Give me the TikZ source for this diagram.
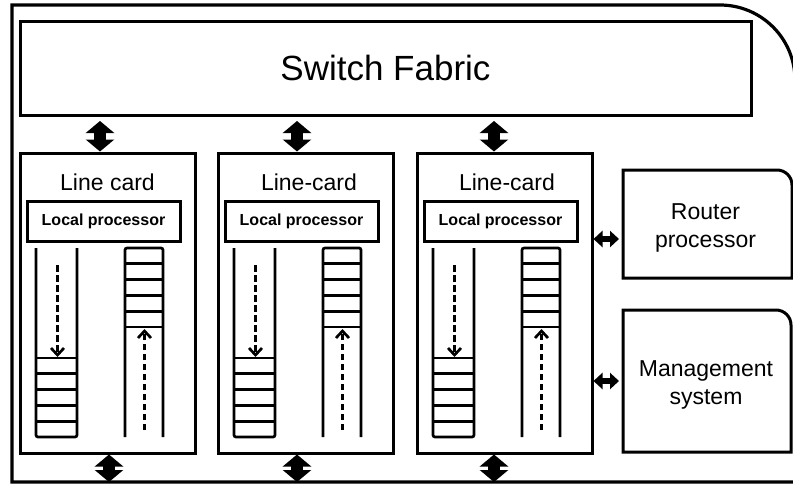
\documentclass[tikz,border=0pt]{standalone}
\usepackage{fontspec}
\setmainfont{Liberation Sans}
\usetikzlibrary{arrows.meta,calc}

\begin{document}
\begin{tikzpicture}[x=1pt,y=-1pt,
  box/.style={draw,line width=3pt,rectangle,inner sep=0pt},
  fat/.style={line width=12pt,{Triangle[width=28pt,length=12pt]}-{Triangle[width=28pt,length=12pt]}},
  slim/.style={line width=6pt,{Triangle[width=16pt,length=9pt]}-{Triangle[width=16pt,length=9pt]}},
  chan/.style={line width=2.7pt},
  flow/.style={line width=2.7pt,dash pattern=on 6.5pt off 3.5pt,-{Straight Barb[length=7pt,width=13pt]}},
  big/.style={font=\fontsize{23}{28}\selectfont}
]
\path[use as bounding box,fill=white] (0,0) rectangle (793,485);
\clip (0,0) rectangle (793,485);

% outer chassis with the rounded top-right corner
\draw[line width=3.2pt] (12,5) -- (720,5) .. controls (761.4,5) and (795,38.6) .. (795,80)
  -- (795,482) -- (12,482) -- cycle;
\coordinate (floor) at (0,482);

% switch fabric
\node[box,minimum width=731pt,minimum height=94pt,font=\fontsize{35}{40}\selectfont] (sf) at (385.5,68) {Switch Fabric};

% line cards
\foreach \i/\l/\tx/\t in {1/20/107.5/Line card, 2/218/309/Line-card, 3/417/507/Line-card} {
  \node[box,minimum width=175pt,minimum height=300pt] (card\i) at (\l+87.5,303) {};
  \node[big] (title\i) at (\tx,182) {\t};
  \node[box,minimum width=153pt,minimum height=40pt,font=\bfseries\fontsize{16}{19}\selectfont] (lp\i) at (\l+83.5,221) {Local processor};
  % downstream channel with its queue at the bottom
  \draw[chan,rounded corners=2pt] (\l+16,248) -- (\l+16,437) -- (\l+57,437) -- (\l+57,248);
  \foreach \y in {358,373.8,389.6,405.4,421.2}
    \draw[chan] (\l+16,\y) -- (\l+57,\y);
  % upstream channel with its queue at the top
  \draw[chan,rounded corners=2pt] (\l+105,437) -- (\l+105,248) -- (\l+143,248) -- (\l+143,437);
  \foreach \y in {263.8,279.6,295.4,311.2,327}
    \draw[chan] (\l+105,\y) -- (\l+143,\y);
  % packet flows
  \coordinate (dn\i a) at (\l+37.5,265);
  \coordinate (dn\i b) at (\l+37.5,357);
  \draw[flow] (dn\i a) -- (dn\i b);
  \coordinate (up\i a) at (\l+124.5,430);
  \coordinate (up\i b) at (\l+124.5,329);
  \draw[flow] (up\i a) -- (up\i b);
}

% fabric <-> card links and card <-> chassis links
\foreach \i/\xt/\xb in {1/100/109, 2/297/297, 3/494/494} {
  \coordinate (t\i) at (\xt,0);
  \coordinate (b\i) at (\xb,0);
  \draw[fat,shorten <=4.5pt] (sf.south -| t\i) -- (card\i.north -| t\i);
  \draw[fat] (card\i.south -| b\i) -- (floor -| b\i);
}

% router processor and management system
\node[minimum width=169pt,minimum height=108pt,outer sep=0pt] (rp) at (707.5,224) {};
\node[minimum width=168pt,minimum height=142pt,outer sep=0pt] (mg) at (707,381) {};
\node[big,align=center] (rptext) at ([xshift=-2pt,yshift=-3.5pt]rp.center) {Router\\processor};
\node[big,align=center] (mgtext) at ([xshift=-1pt,yshift=-3.5pt]mg.center) {Management\\system};
\foreach \n in {rp,mg}
  \draw[line width=3pt] (\n.south west) -- (\n.north west) -- ([xshift=-15pt]\n.north east)
    .. controls ([xshift=-6.7pt]\n.north east) and ([yshift=-6.7pt]\n.north east) .. ([yshift=-15pt]\n.north east)
    -- (\n.south east) -- cycle;

\coordinate (h1) at (0,239);
\draw[slim,shorten >=4pt] (card3.east |- h1) -- (rp.west |- h1);
\draw[slim,shorten >=4pt] (card3.east |- mg.west) -- (mg.west);
\end{tikzpicture}
\end{document}
